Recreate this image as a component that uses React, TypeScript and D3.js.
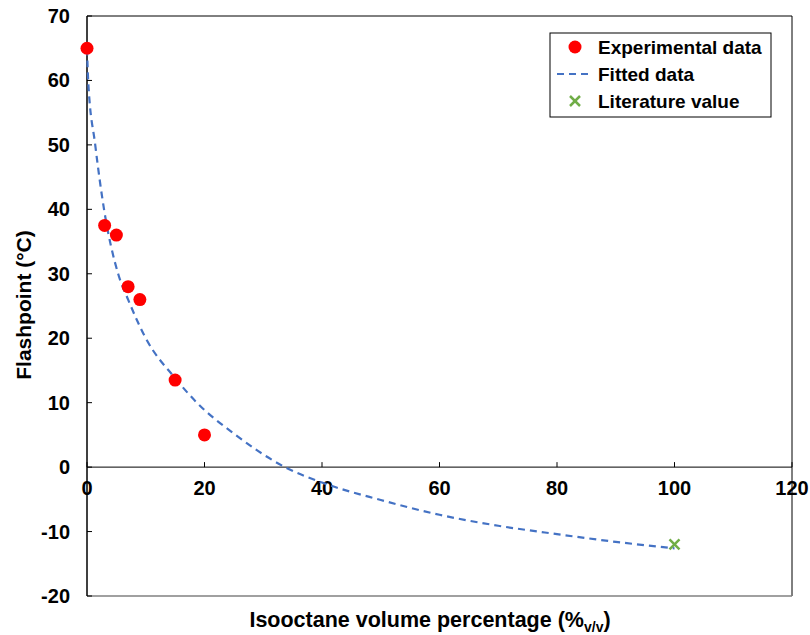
import * as d3 from 'd3';

const expX = [0, 3, 5, 7, 9, 15, 20];
const expY = [65, 37.5, 36, 28, 26, 13.5, 5];

const fitX = [0, 0.2, 1.4, 2.9, 5.3, 7, 10, 15, 18.7, 25, 33.7, 40, 50, 60, 70, 80, 90, 100];
const fitY = [65, 60, 50, 40, 30, 26, 20, 13.8, 10, 5.2, 0, -2.4, -5.1, -7.4, -9.1, -10.4, -11.6, -12.6];

const litX = [100];
const litY = [-12];

const xTicks = [0, 20, 40, 60, 80, 100, 120];
const yTicks = [-20, -10, 0, 10, 20, 30, 40, 50, 60, 70];

const W = 810;
const H = 635;
const font = '"Liberation Sans", Arial, sans-serif';

export default function App() {
  const x = d3.scaleLinear().domain([0, 120]).range([87, 792]);
  const y = d3.scaleLinear().domain([-20, 70]).range([596, 16]);

  const fitLine = d3
    .line<number>()
    .x((_, i) => x(fitX[i]))
    .y(d => y(d))
    .curve(d3.curveMonotoneX);

  const y0 = y(0);

  return (
    <svg width={W} height={H} style={{ position: 'absolute', left: 0, top: 0 }} fontFamily={font}>
      <rect width={W} height={H} fill="#fff" />
      {/* frame */}
      <line x1={87} x2={792} y1={16} y2={16} stroke="#000" strokeWidth={1} />
      <line x1={792} x2={792} y1={16} y2={596} stroke="#000" strokeWidth={1} />
      <line x1={87} x2={792} y1={596} y2={596} stroke="#808080" strokeWidth={1.5} />
      <line x1={87} x2={87} y1={16} y2={596} stroke="#000" strokeWidth={1.5} />
      {/* x axis at zero */}
      <line x1={87} x2={792} y1={y0} y2={y0} stroke="#000" strokeWidth={1} />
      {xTicks.map(t => (
        <g key={'xt' + t}>
          <line x1={x(t)} x2={x(t)} y1={y0} y2={y0 - 5} stroke="#000" />
          <text x={x(t)} y={y0 + 28} textAnchor="middle" fontSize={20} fontWeight="bold">
            {t}
          </text>
        </g>
      ))}
      {yTicks.map(t => (
        <g key={'yt' + t}>
          <line x1={87} x2={92} y1={y(t)} y2={y(t)} stroke="#000" />
          <text x={70} y={y(t) + 7} textAnchor="end" fontSize={20} fontWeight="bold">
            {t}
          </text>
        </g>
      ))}
      {/* fitted curve */}
      <path d={fitLine(fitY) || ''} fill="none" stroke="#4472C4" strokeWidth={2.2} strokeDasharray="7,5" />
      {/* experimental */}
      {expX.map((v, i) => (
        <circle key={'e' + i} cx={x(v)} cy={y(expY[i])} r={6.5} fill="#FF0000" />
      ))}
      {/* literature */}
      {litX.map((v, i) => {
        const cx = x(v);
        const cy = y(litY[i]);
        return (
          <g key={'l' + i} stroke="#70AD47" strokeWidth={2.5}>
            <line x1={cx - 5} x2={cx + 5} y1={cy - 5} y2={cy + 5} />
            <line x1={cx - 5} x2={cx + 5} y1={cy + 5} y2={cy - 5} />
          </g>
        );
      })}
      {/* legend */}
      <rect x={550} y={33} width={221} height={84} fill="#fff" stroke="#000" strokeWidth={1} />
      <circle cx={575} cy={47} r={6.5} fill="#FF0000" />
      <text x={598} y={54} fontSize={19} fontWeight="bold">Experimental data</text>
      <line x1={557} x2={593} y1={74} y2={74} stroke="#4472C4" strokeWidth={2.2} strokeDasharray="7,5" />
      <text x={598} y={81} fontSize={19} fontWeight="bold">Fitted data</text>
      <g stroke="#70AD47" strokeWidth={2.5}>
        <line x1={570} x2={580} y1={96} y2={106} />
        <line x1={570} x2={580} y1={106} y2={96} />
      </g>
      <text x={598} y={108} fontSize={19} fontWeight="bold">Literature value</text>
      {/* axis titles */}
      <text
        transform="translate(31,305) rotate(-90)"
        textAnchor="middle"
        fontSize={21}
        fontWeight="bold"
      >
        Flashpoint (°C)
      </text>
      <text x={430} y={627} textAnchor="middle" fontSize={21.5} fontWeight="bold">
        Isooctane volume percentage (%
        <tspan fontSize={14} dy={5}>v/v</tspan>
        <tspan dy={-5}>)</tspan>
      </text>
    </svg>
  );
}
